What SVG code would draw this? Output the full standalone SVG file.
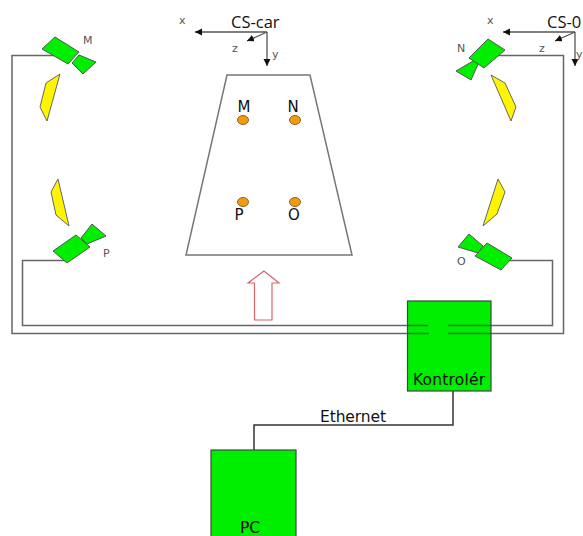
<svg xmlns="http://www.w3.org/2000/svg" width="583" height="536" viewBox="0 0 583 536">
<defs>
<marker id="ah" markerWidth="9" markerHeight="8" refX="7" refY="3.5" orient="auto" markerUnits="userSpaceOnUse"><path d="M0,0L7,3.5L0,7z" fill="#111"/></marker>
</defs>
<style>
text{font-family:"DejaVu Sans",sans-serif;fill:#111}
.g{fill:#00ee00;stroke:#555;stroke-width:1}
.y{fill:#fff500;stroke:#666;stroke-width:1}
.w{fill:none;stroke:#666;stroke-width:1.5}
.d{fill:#f59a0c;stroke:#8a6a30;stroke-width:1}
.s{font-size:11px;fill:#555}
.a{fill:none;stroke:#555;stroke-width:1.3;marker-end:url(#ah)}
.l{font-size:15px}
.c{font-family:"Open Sans",sans-serif;font-size:16.500px}
.t{font-size:15.500px}
</style>
<rect width="583" height="536" fill="#fff"/>
<g id="connectors">
<path class="w" d="M56,55.500H12V333.500H429M448,333.500H563.500V55.500H497"/>
<path class="w" d="M66,260.500H22.500V325.500H428M448,325.500H552.500V260.500H508"/>
<path d="M453,391V425H254V450" fill="none" stroke="#333" stroke-width="1.500"/>
</g>
<g id="cs-car">
<path class="a" d="M267,32H195"/><path class="a" d="M267,32L247,41"/><path class="a" d="M267,32V66"/>
<text class="c" x="231" y="28">CS-car</text>
<text class="s" x="179" y="24">x</text><text class="s" x="232" y="52">z</text><text class="s" x="272" y="58">y</text>
</g>
<g id="cs-0">
<path class="a" d="M575,32H503"/><path class="a" d="M575,32L555,41"/><path class="a" d="M575,32V66"/>
<text class="c" x="547" y="28">CS-0</text>
<text class="s" x="487" y="24">x</text><text class="s" x="539" y="52">z</text><text class="s" x="576" y="58">y</text>
</g>
<g id="camera-m">
<polygon class="g" points="79,55 96,62 83,74 72,63"/><polygon class="g" points="55,37 79,52 68,64 42,49"/>
<polygon class="y" points="60,74 46,83 40,107 47,121"/>
<text class="s" x="83" y="44">M</text>
</g>
<g id="camera-n">
<polygon class="g" points="479,62 471,80 456,71 473,61"/><polygon class="g" points="488,39 505,50 484,68 469,58"/>
<polygon class="y" points="491,75 505,83 516,107 511,121"/>
<text class="s" x="457" y="52">N</text>
</g>
<g id="camera-p">
<polygon class="g" points="81,238 92,224 106,236 87,244"/><polygon class="g" points="76,235 90,247 67,263 53,251"/>
<polygon class="y" points="58,179 51,192 56,215 69,226"/>
<text class="s" x="103" y="257">P</text>
</g>
<g id="camera-o">
<polygon class="g" points="469,234 483,246 478,253 458,247"/><polygon class="g" points="487,243 512,258 501,270 475,256"/>
<polygon class="y" points="498,179 505,192 497,214 483,226"/>
<text class="s" x="457" y="265">O</text>
</g>
<g id="car">
<polygon points="227,75 310,75 352,255 186,255" fill="#fff" stroke="#777" stroke-width="1.500"/>
<ellipse class="d" cx="243" cy="120" rx="5.500" ry="4.500"/><ellipse class="d" cx="295" cy="120" rx="5.500" ry="4.500"/>
<ellipse class="d" cx="243" cy="202" rx="5.500" ry="4.500"/><ellipse class="d" cx="295" cy="202" rx="5.500" ry="4.500"/>
<text class="l" x="244" y="112" text-anchor="middle">M</text>
<text class="l" x="293" y="112" text-anchor="middle">N</text>
<text class="l" x="239" y="220" text-anchor="middle">P</text>
<text class="l" x="294" y="220" text-anchor="middle">O</text>
</g>
<g id="direction-arrow">
<polygon points="264,271 248,283 254.500,283 254.500,320 272,320 272,283 279,283" fill="#fff" stroke="#d9656a" stroke-width="1.200"/>
</g>
<g id="controller">
<rect x="407.500" y="301" width="83.500" height="90" fill="#00ee00" stroke="#444" stroke-width="1.200"/>
<path d="M407.500,325.500H428M407.500,333.500H429M448,325.500H491M448,333.500H491" stroke="#2a7a2a" stroke-width="1.500" fill="none"/>
<text class="t" x="449" y="385" text-anchor="middle" textLength="72">Kontrolér</text>
</g>
<g id="pc">
<rect x="211" y="450" width="85" height="92" fill="#00ee00" stroke="#444" stroke-width="1.200"/>
<text class="t" x="250" y="533" text-anchor="middle">PC</text>
</g>
<text class="t" x="320" y="422" textLength="66">Ethernet</text>
</svg>
